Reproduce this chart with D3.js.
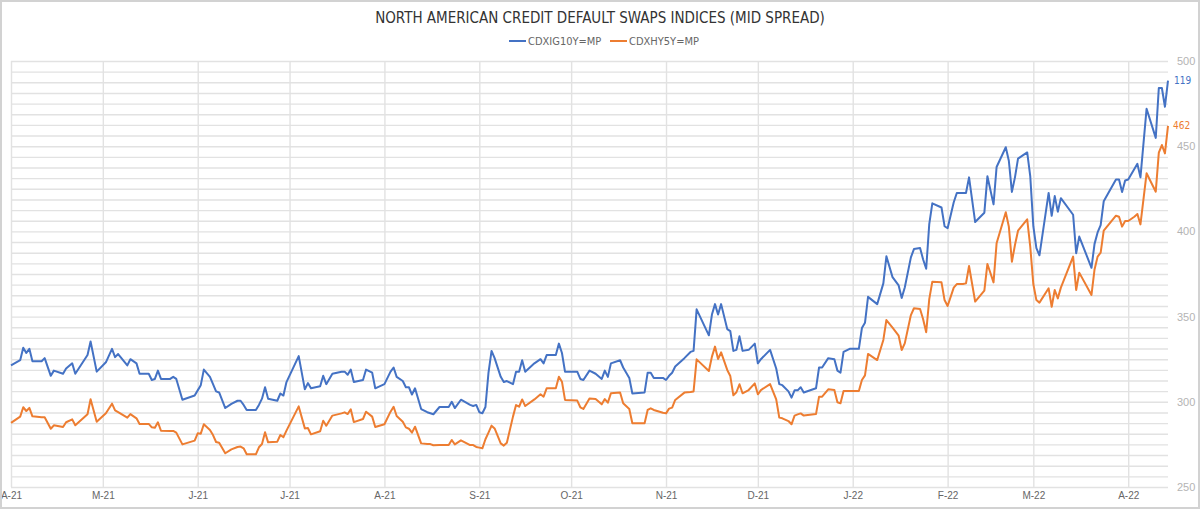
<!DOCTYPE html>
<html>
<head>
<meta charset="utf-8">
<script src="https://cdn.jsdelivr.net/npm/d3@7"></script>
<style>
  body { margin: 0; background: #fff; }
  svg { display: block; font-family: "DejaVu Sans Condensed", "Roboto", sans-serif; }
  .grid line { stroke: #e2e2e2; stroke-width: 1.4; }
  .grid path { display: none; }
</style>
</head>
<body>
<svg id="chart" width="1200" height="509"><g></g></svg>
<script>
// dates of the line vertices
const dates = [
  "2021-04-01","2021-04-04","2021-04-05","2021-04-06","2021-04-07","2021-04-08","2021-04-11","2021-04-12","2021-04-14","2021-04-15",
  "2021-04-18","2021-04-19","2021-04-21","2021-04-22","2021-04-26","2021-04-27","2021-04-29","2021-05-02","2021-05-04","2021-05-05",
  "2021-05-06","2021-05-09","2021-05-10","2021-05-12","2021-05-13","2021-05-16","2021-05-17","2021-05-18","2021-05-19","2021-05-20",
  "2021-05-23","2021-05-24","2021-05-25","2021-05-27","2021-05-31",
  "2021-06-01","2021-06-02","2021-06-03","2021-06-05","2021-06-06","2021-06-07","2021-06-08","2021-06-10","2021-06-12","2021-06-14",
  "2021-06-15","2021-06-16","2021-06-17","2021-06-20","2021-06-21","2021-06-22","2021-06-23","2021-06-24","2021-06-27","2021-06-28",
  "2021-06-29","2021-06-30","2021-07-04","2021-07-06","2021-07-07","2021-07-08","2021-07-11","2021-07-12","2021-07-13","2021-07-15",
  "2021-07-18","2021-07-19","2021-07-20","2021-07-21","2021-07-22","2021-07-25","2021-07-26","2021-07-28","2021-07-29","2021-08-01",
  "2021-08-03",
  "2021-08-04","2021-08-05","2021-08-07","2021-08-08","2021-08-09","2021-08-10","2021-08-11","2021-08-13","2021-08-15","2021-08-16",
  "2021-08-17","2021-08-19","2021-08-22","2021-08-23","2021-08-24","2021-08-26","2021-08-29","2021-08-30","2021-08-31","2021-09-01",
  "2021-09-02","2021-09-03","2021-09-04","2021-09-05","2021-09-06","2021-09-08","2021-09-09","2021-09-10","2021-09-12","2021-09-13",
  "2021-09-14","2021-09-15","2021-09-16","2021-09-19","2021-09-21","2021-09-22","2021-09-23","2021-09-26","2021-09-27","2021-09-28",
  "2021-09-29","2021-10-03","2021-10-04",
  "2021-10-05","2021-10-07","2021-10-09","2021-10-11","2021-10-12","2021-10-13","2021-10-14","2021-10-17","2021-10-18","2021-10-20",
  "2021-10-21","2021-10-25","2021-10-26","2021-10-27","2021-10-28","2021-10-31","2021-11-01","2021-11-02","2021-11-03","2021-11-04",
  "2021-11-07","2021-11-09","2021-11-10","2021-11-11","2021-11-15","2021-11-16","2021-11-17","2021-11-18","2021-11-19","2021-11-21",
  "2021-11-22","2021-11-23","2021-11-24","2021-11-25","2021-11-26","2021-11-28","2021-11-30","2021-12-01","2021-12-02","2021-12-05",
  "2021-12-07","2021-12-08","2021-12-09","2021-12-11","2021-12-12","2021-12-13","2021-12-14","2021-12-15","2021-12-16","2021-12-20",
  "2021-12-21","2021-12-22","2021-12-24","2021-12-26","2021-12-27","2021-12-28","2021-12-29","2021-12-31","2022-01-03","2022-01-04",
  "2022-01-05","2022-01-06","2022-01-09","2022-01-11","2022-01-12","2022-01-14","2022-01-16","2022-01-17","2022-01-18","2022-01-20",
  "2022-01-21","2022-01-23","2022-01-24","2022-01-25","2022-01-26","2022-01-27","2022-01-30","2022-01-31","2022-02-01","2022-02-03",
  "2022-02-04","2022-02-06",
  "2022-02-07","2022-02-08","2022-02-10","2022-02-13","2022-02-14","2022-02-16","2022-02-17","2022-02-20","2022-02-21","2022-02-22",
  "2022-02-23","2022-02-24","2022-02-27","2022-02-28","2022-03-01","2022-03-02","2022-03-03","2022-03-06","2022-03-07","2022-03-08",
  "2022-03-09","2022-03-10","2022-03-14","2022-03-15","2022-03-16","2022-03-20","2022-03-21","2022-03-22","2022-03-23","2022-03-24",
  "2022-03-28","2022-03-29","2022-03-30","2022-03-31","2022-04-01","2022-04-03","2022-04-04","2022-04-05","2022-04-07","2022-04-10",
  "2022-04-11","2022-04-12","2022-04-13","2022-04-14"
];

// CDXIG10Y=MP mid spread (bp) - hidden axis
const igSpread = [
  91.7,92.2,93.4,92.9,93.3,92.1,92.1,92.4,90.7,91.2,
  90.9,91.4,91.9,90.9,92.7,94.0,91.1,92.0,93.3,92.5,
  92.8,91.7,92.3,91.9,90.9,90.9,90.3,90.4,91.2,90.4,
  90.4,90.6,90.4,88.4,88.8,
  89.3,89.8,91.3,90.6,89.9,89.2,89.1,87.6,88.0,88.3,
  88.3,87.9,87.4,87.4,87.9,88.5,89.6,88.5,88.3,89.0,
  88.8,90.1,92.6,89.4,90.0,89.5,89.7,90.7,89.9,90.9,
  91.1,91.1,90.8,91.3,90.1,90.3,91.3,91.0,89.5,89.9,
  91.1,
  91.5,90.6,90.2,89.6,89.6,88.9,89.5,87.5,87.2,87.1,
  87.0,87.7,87.7,88.2,87.6,88.4,87.9,87.8,87.9,87.2,
  87.1,87.7,91.0,93.1,92.4,90.6,90.1,90.2,89.9,91.1,
  91.1,92.2,91.1,91.9,92.3,91.9,92.7,92.7,93.8,92.9,
  91.1,91.1,90.4,
  90.3,91.2,90.9,90.4,91.2,90.6,91.9,92.2,91.5,90.5,
  89.0,89.1,91.0,91.0,90.5,90.5,90.3,90.7,91.0,91.6,
  92.4,93.0,93.1,97.1,94.6,96.6,97.6,96.6,97.6,95.2,
  95.0,93.1,93.2,94.5,93.1,93.2,93.8,91.9,92.3,93.2,
  91.4,89.9,89.8,89.2,88.6,89.3,89.3,89.6,89.1,89.5,
  91.5,91.5,92.4,92.3,91.2,91.0,93.0,93.3,93.3,95.3,
  95.8,98.3,97.6,99.6,102.2,100.2,99.4,98.2,99.2,102.1,
  102.9,103.0,101.9,101.0,105.3,107.3,106.9,105.1,104.9,107.4,
  108.3,108.3,
  108.3,109.8,105.5,106.4,109.9,107.2,110.8,112.7,111.4,108.4,
  109.8,111.6,112.2,109.9,105.1,103.0,102.3,108.3,106.1,108.0,
  106.5,107.8,106.2,102.5,104.1,101.1,103.4,104.5,105.2,107.5,
  109.6,109.6,108.4,109.5,109.6,110.6,111.1,109.8,116.4,113.6,
  118.4,118.4,116.6,119.1
];

// CDXHY5Y=MP mid spread (bp) - right axis
const hySpread = [
  287.6,291.3,296.8,294.6,296.4,291.5,290.9,290.9,284.2,286.2,
  285.2,288.0,289.7,286.2,292.7,301.5,288.3,293.3,298.9,295.0,
  294.0,290.7,292.8,290.3,287.0,287.0,285.0,284.8,288.0,283.0,
  282.9,282.9,281.9,275.0,277.2,
  281.5,281.3,286.8,283.5,280.5,276.4,276.0,269.8,272.1,273.5,
  273.7,272.7,269.2,269.2,273.3,275.2,282.1,276.2,276.6,280.5,
  279.3,283.1,297.3,284.4,284.6,280.9,282.7,288.9,286.0,291.9,
  293.2,293.8,292.8,295.6,288.1,289.9,294.2,291.3,285.2,286.8,
  294.2,
  297.1,291.7,288.3,285.0,284.2,281.9,285.4,275.6,275.2,275.2,
  274.5,274.6,274.6,277.6,275.0,277.4,274.6,274.6,273.5,273.1,
  272.7,278.0,281.9,286.0,284.4,275.6,274.3,276.0,291.3,298.1,
  297.1,301.4,297.5,301.4,304.4,303.0,307.9,307.9,314.7,311.8,
  301.1,300.7,296.8,
  295.8,302.0,301.6,298.5,301.6,299.5,305.0,305.4,299.1,295.8,
  287.4,287.4,295.2,296.2,295.2,293.6,293.2,296.0,296.6,301.1,
  305.4,305.8,306.1,324.9,318.1,326.5,332.4,325.1,329.0,318.7,
  315.1,303.8,305.6,310.3,305.0,306.9,310.8,304.4,306.9,310.4,
  301.4,290.7,290.3,288.7,286.8,291.9,292.6,293.2,291.9,292.8,
  303.0,303.0,307.3,306.9,299.7,299.1,306.3,306.3,306.3,312.8,
  315.5,328.1,324.5,336.3,348.0,343.5,338.8,330.4,334.3,350.9,
  354.9,354.5,348.4,340.8,360.3,370.5,370.1,359.7,356.2,367.0,
  369.1,369.1,
  369.5,379.7,358.8,365.2,380.9,370.1,393.0,411.2,402.8,382.2,
  392.0,400.4,407.1,391.0,369.1,359.7,358.2,366.6,355.8,365.6,
  360.7,367.0,385.2,365.6,375.8,362.7,377.7,385.2,387.5,400.4,
  409.2,408.6,402.8,406.1,406.1,408.6,410.2,404.1,434.1,423.3,
  446.2,450.7,445.8,461.9
];

const seriesNames = ["CDXIG10Y=MP", "CDXHY5Y=MP"];
const seriesColors = ["#4472c4", "#ed7d31"];
const hyTicks = [250, 300, 350, 400, 450, 500];
const title = "NORTH AMERICAN CREDIT DEFAULT SWAPS INDICES (MID SPREAD)";

const margin = { top: 61, right: 32, bottom: 22, left: 11 },
  width = 1200,
  height = 509,
  innerWidth = width - margin.left - margin.right,
  innerHeight = height - margin.top - margin.bottom;

const parseDate = d3.timeParse("%Y-%m-%d");
const rows = dates.map((d, i) => ({ date: parseDate(d), ig: igSpread[i], hy: hySpread[i] }));

const svg = d3.select("#chart");
// outer frame
svg.append("rect").attr("x", 1).attr("y", 1).attr("width", width - 2).attr("height", height - 2)
  .attr("fill", "none").attr("stroke", "#d2d2d2").attr("stroke-width", 2);

svg.append("text").attr("x", 600).attr("y", 23).attr("text-anchor", "middle")
  .attr("font-size", 15).attr("fill", "#333").text(title);

// legend
const legend = svg.selectAll(".legend").data(seriesNames).join("g").attr("class", "legend")
  .attr("transform", (d, i) => `translate(${509 + i * 101},41)`);
legend.append("line").attr("x1", 0).attr("x2", 17).attr("stroke", (d, i) => seriesColors[i]).attr("stroke-width", 2);
legend.append("text").attr("x", 19).attr("dy", "0.35em").attr("font-size", 11).attr("fill", "#666").text(d => d);

const g = svg.select("g").attr("transform", `translate(${margin.left},${margin.top})`);

const xScale = d3.scaleTime().domain(d3.extent(rows, d => d.date)).range([0, innerWidth]);
const yHy = d3.scaleLinear().domain([250, 500]).range([innerHeight, 0]);
const yIg = d3.scaleLinear().domain([80, 121]).range([innerHeight, 0]);

// horizontal grid + right axis labels (labels only every 50)
g.selectAll(".y_axis").data([null]).join("g").attr("class", "y_axis grid")
  .attr("transform", `translate(${innerWidth},0)`)
  .call(d3.axisRight(yHy).tickValues(d3.range(250, 500.01, 6.25)).tickSize(-innerWidth).tickPadding(9)
    .tickFormat(d => hyTicks.includes(d) ? d : ""))
  .call(s => s.selectAll("text").filter(d => !hyTicks.includes(d)).remove())
  .call(s => s.selectAll("text").attr("fill", "#b4b4b4").attr("font-size", 11).attr("font-family", "inherit"));

// vertical month grid + labels
const fmtMonth = d3.timeFormat("%b"), fmtYear = d3.timeFormat("%y");
g.selectAll(".x_axis").data([null]).join("g").attr("class", "x_axis grid")
  .attr("transform", `translate(0,${innerHeight})`)
  .call(d3.axisBottom(xScale).ticks(d3.timeMonth.every(1)).tickSize(-innerHeight).tickPadding(5)
    .tickFormat(d => fmtMonth(d)[0] + "-" + fmtYear(d)))
  .call(s => s.selectAll("text").attr("fill", "#666").attr("font-size", 10).attr("font-family", "inherit"));

const igLine = d3.line().x(d => xScale(d.date)).y(d => yIg(d.ig));
const hyLine = d3.line().x(d => xScale(d.date)).y(d => yHy(d.hy));

g.selectAll(".series").data([hyLine(rows), igLine(rows)]).join("path").attr("class", "series")
  .attr("d", p => p).attr("fill", "none")
  .attr("stroke", (p, i) => i === 0 ? seriesColors[1] : seriesColors[0])
  .attr("stroke-width", 2).attr("stroke-linejoin", "round");

// end-value labels
const last = rows[rows.length - 1];
g.append("text").attr("x", innerWidth + 6).attr("y", yIg(last.ig)).attr("dy", "0.35em")
  .attr("font-size", 10).attr("fill", seriesColors[0]).text(Math.round(last.ig));
g.append("text").attr("x", innerWidth + 5).attr("y", yHy(last.hy)).attr("dy", "0.35em")
  .attr("font-size", 10).attr("fill", seriesColors[1]).text(Math.round(last.hy));
</script>
</body>
</html>
